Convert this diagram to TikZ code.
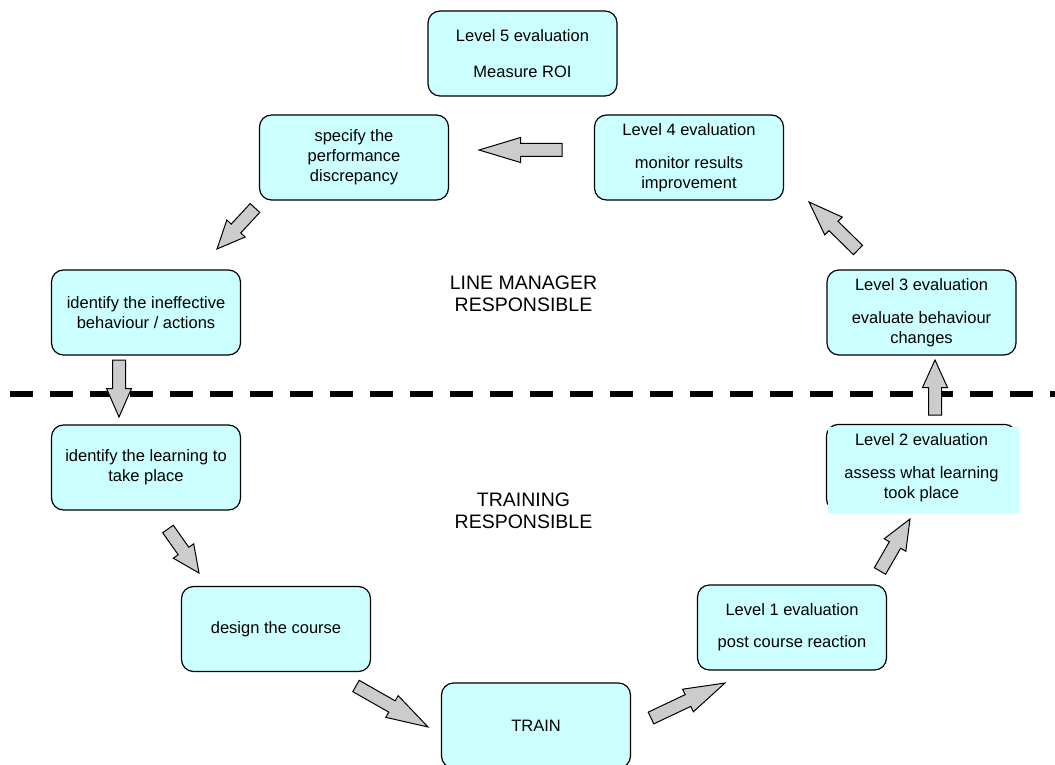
\documentclass[tikz,border=0pt]{standalone}
\usepackage{fontspec}
\setmainfont{Liberation Sans}
\usepackage{tikz}
\usetikzlibrary{calc}
\usetikzlibrary{backgrounds}
\usetikzlibrary{positioning}

\definecolor{boxcyan}{HTML}{CCFFFF}
\definecolor{arrowgray}{HTML}{CCCCCC}

\tikzset{
  box/.style={draw=black, fill=boxcyan, line width=1.2pt, rounded corners=12pt,
    minimum width=189pt, minimum height=85pt, inner sep=2pt, align=center,
    font=\fontsize{16.5}{20}\selectfont},
  zonetext/.style={align=center, font=\fontsize{19.5}{22}\selectfont},
  divider/.style={line width=6pt, dash pattern=on 23pt off 17pt},
  blockarrow/.style={draw=black, fill=arrowgray, line width=1pt, line join=miter,
    to path={($(\tikztotarget)!0.5!(\tikztostart)$) coordinate (bh)
      ($(\tikztostart)!6.5pt!90:(\tikztotarget)$)
      -- ($(bh)!6.5pt!90:(\tikztotarget)$) -- ($(bh)!12.5pt!90:(\tikztotarget)$)
      -- (\tikztotarget)
      -- ($(bh)!12.5pt!-90:(\tikztotarget)$) -- ($(bh)!6.5pt!-90:(\tikztotarget)$)
      -- ($(\tikztostart)!6.5pt!-90:(\tikztotarget)$) -- cycle}}
}

\begin{document}
\begin{tikzpicture}[x=1pt,y=-1pt,on grid]
    \useasboundingbox (0,0) rectangle (1055,765);
    % line manager side
    \node[box] (L5) at (522.5,53.5) {Level 5 evaluation\\[16pt]Measure ROI};
    \node[box] (spec) [below left=104pt and 168.5pt of L5] {specify the\\performance\\discrepancy};
    \node[box] (L4) [right=335pt of spec] {Level 4 evaluation\\[13pt]monitor results\\improvement};
    \node[box] (ineff) [below left=155pt and 208pt of spec] {identify the ineffective\\behaviour / actions};
    \node[box] (L3) [below right=155pt and 232.5pt of L4] {Level 3 evaluation\\[13pt]evaluate behaviour\\changes};
    % training side
    \node[box] (learn) [below=155pt of ineff] {identify the learning to\\take place};
    \node[box, draw=none, fill=none] (L2) [below=155pt of L3] {Level 2 evaluation\\[13pt]assess what learning\\took place};
    \node[box] (design) [below right=161.5pt and 130pt of learn] {design the course};
    \node[box] (L1) [below left=160pt and 129.5pt of L2] {Level 1 evaluation\\[12pt]post course reaction};
    \node[box] (train) [below right=96.5pt and 260pt of design] {TRAIN};
    \begin{scope}[on background layer]
        \draw[box] (L2.north west) rectangle (L2.south east);
        \fill[boxcyan] ($(L2.north west)+(1.5,3)$) rectangle ($(L2.south east)+(2,2)$);
    \end{scope}

    \node[zonetext] (mgr) at (523.5,294) {LINE MANAGER\\RESPONSIBLE};
    \node[zonetext] (trn) at (523.5,511) {TRAINING\\RESPONSIBLE};

    \coordinate (divL) at (10,394);
    \coordinate (divR) at (1060,394);
    \draw[divider] (divL) -- (divR);

    % arrow ends
    \coordinate (a1s) at (562,150); \coordinate (a1t) at (479,150);
    \coordinate (a2s) at (255,208); \coordinate (a2t) at (217,249);
    \coordinate (a3s) at (119,360); \coordinate (a3t) at (119,417);
    \coordinate (a4s) at (168,529); \coordinate (a4t) at (199,573);
    \coordinate (a5s) at (356,686); \coordinate (a5t) at (428,727);
    \coordinate (a6s) at (651,718); \coordinate (a6t) at (725,683);
    \coordinate (a7s) at (880,571); \coordinate (a7t) at (910,519);
    \coordinate (a8s) at (935,415); \coordinate (a8t) at (935,360);
    \coordinate (a9s) at (858,250); \coordinate (a9t) at (809,202);
    \path (a1s) edge[blockarrow] (a1t)
          (a2s) edge[blockarrow] (a2t)
          (a3s) edge[blockarrow] (a3t)
          (a4s) edge[blockarrow] (a4t)
          (a5s) edge[blockarrow] (a5t)
          (a6s) edge[blockarrow] (a6t)
          (a7s) edge[blockarrow] (a7t)
          (a8s) edge[blockarrow] (a8t)
          (a9s) edge[blockarrow] (a9t);
\end{tikzpicture}
\end{document}
